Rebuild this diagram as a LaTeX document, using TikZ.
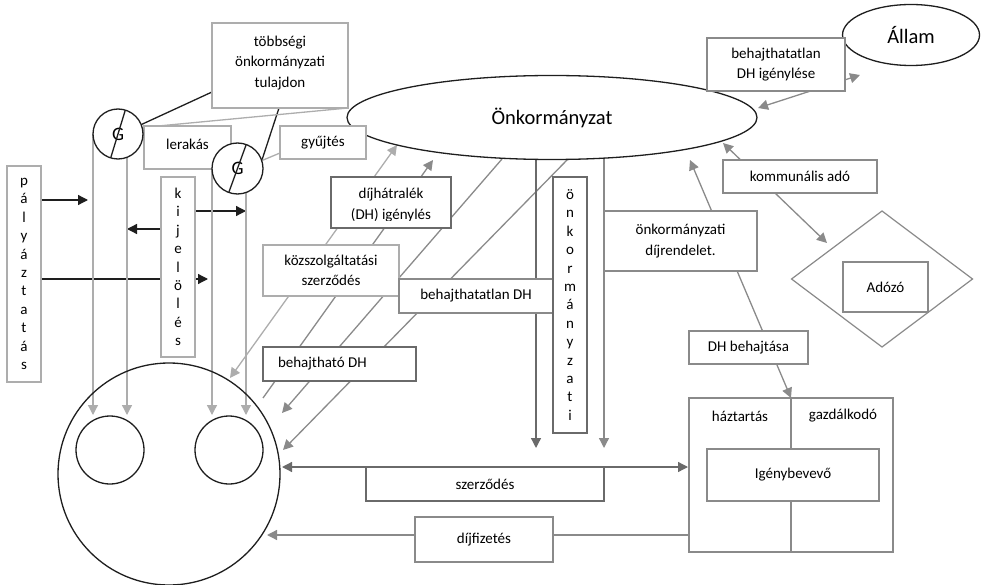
\documentclass[tikz,border=0pt]{standalone}
\usepackage{fontspec}
\setmainfont{Carlito}
\usetikzlibrary{arrows.meta,shapes.geometric}
\pgfdeclarelayer{bg}
\pgfsetlayers{bg,main}
\definecolor{lk}{HTML}{1E1E1E}
\definecolor{gd}{HTML}{6A6A6A}
\definecolor{gm}{HTML}{8A8A8A}
\definecolor{gl}{HTML}{ADADAD}
\newcommand\fsn{\fontsize{15}{20.5}\selectfont}
\newcommand\fsv{\fontsize{15}{18.4}\selectfont}
\newcommand\fsb{\fontsize{20.5}{24}\selectfont}
\begin{document}
\begin{tikzpicture}[x=1pt,y=-1pt,
  every node/.style={inner sep=0pt,outer sep=0pt,font=\fsn},
  box/.style={draw=#1,fill=white,line width=1.2pt,align=center},
  box/.default=gm,
  vbox/.style={box=#1,font=\fsv},
  vbox/.default=gl,
  ln/.style={draw=#1,line width=1.3pt},
  ln/.default=gm,
  tipE/.style={-{Triangle[length=10pt,width=10pt]}},
  tipB/.style={{Triangle[length=10pt,width=10pt]}-{Triangle[length=10pt,width=10pt]}},
  circ/.style={circle,draw=lk,line width=1.3pt},
]
\useasboundingbox (0,0) rectangle (981,585);

% ---- circles (big and small) ----
\node[circ,minimum size=222pt] (bc) at (169,474) {};
\node[circ,minimum size=68pt] (sc1) at (110,450) {};
\node[circ,minimum size=68pt] (sc2) at (229,450) {};

% ---- ellipses ----
\node[ellipse,draw=lk,fill=white,line width=1.3pt,minimum width=410pt,minimum height=84pt,font=\fsb] (onk) at (552,117.5) {Önkormányzat};
\node[ellipse,draw=lk,fill=white,line width=1.3pt,minimum width=137pt,minimum height=61pt,font=\fsb] (all) at (911,35) {Állam};

% ---- left boxes ----
\node[box=gl,minimum width=136pt,minimum height=85pt] (tob) at (280,65.5) {};
\node[align=center] (tobt) at (280,63) {többségi\\önkormányzati\\tulajdon};
\node[box=gl,minimum width=87pt,minimum height=43pt] (ler) at (187.5,147.5) {};
\node (lert) at (187.5,144) {lerakás};
\node[box=gl,minimum width=86pt,minimum height=33pt] (gyu) at (323,142.5) {gyűjtés};
\node[vbox,minimum width=34pt,minimum height=216pt] (paly) at (24,274) {p\\á\\l\\y\\á\\z\\t\\a\\t\\á\\s};
\node[vbox,minimum width=34pt,minimum height=180pt] (kij) at (178,267) {k\\i\\j\\e\\l\\ö\\l\\é\\s};

% ---- G circles ----
\node[circ,fill=white,minimum size=50pt,font=\fontsize{19}{22}\selectfont] (g1) at (118,134) {G};
\draw[lk,line width=1.3pt] (g1.73) -- (g1.253);
\node[circ,fill=white,minimum size=51pt,font=\fontsize{19}{22}\selectfont] (g2) at (237.5,168.5) {G};
\draw[lk,line width=1.3pt] (g2.70) -- (g2.250);

% ---- middle boxes ----
\node[box=gd,minimum width=120pt,minimum height=51pt] (dij) at (391,202.5) {};
\begin{scope}
\clip (331.6,177.6) rectangle (450.4,220.6);
\node[anchor=base] (dijt1) at (391,199) {díjhátralék};
\node[anchor=base] (dijt2) at (391,219.6) {(DH) igénylés};
\end{scope}
\node[box=gl,minimum width=136pt,minimum height=51pt] (kozsz) at (331,270.5) {közszolgáltatási\\szerződés};
\node[box=gm,minimum width=154pt,minimum height=34pt] (bhtl) at (476,296) {behajthatatlan DH};
\node[box=gd,minimum width=153pt,minimum height=34pt] (bht) at (339.5,364) {};
\node[anchor=west] (bhtt) at (278,364) {behajtható DH};
\node[vbox=gd,minimum width=34pt,minimum height=256pt] (onkv) at (570,305) {ö\\n\\k\\o\\r\\m\\á\\n\\y\\z\\a\\t\\i};
\node[box=gd,minimum width=238pt,minimum height=34pt] (szerz) at (485,484) {szerződés};
\node[box=gm,minimum width=138pt,minimum height=45pt] (dijf) at (484,539.5) {díjfizetés};

% ---- right boxes ----
\node[box=gm,minimum width=138pt,minimum height=53pt] (bhig) at (776,64.5) {behajthatatlan\\DH igénylése};
\node[box=gm,minimum width=154pt,minimum height=33pt] (kom) at (800,176.5) {kommunális adó};
\node[box=gm,minimum width=153pt,minimum height=60pt] (dijr) at (680.5,241) {önkormányzati\\díjrendelet.};
\node[box=gm,minimum width=119pt,minimum height=33pt] (dhb) at (748.5,347.5) {DH behajtása};
\node[diamond,draw=gm,fill=white,line width=1.2pt,minimum width=181pt,minimum height=136pt] (adz) at (882,279) {};
\node[box=gm,minimum width=85pt,minimum height=50pt] (adozo) at (885.5,287) {Adózó};
\node[box=gm,minimum width=204pt,minimum height=154pt] (outer) at (791,475) {};
\draw[gm,line width=1.2pt] (outer.north) -- (outer.south);
\node[box=gm,minimum width=172pt,minimum height=52pt] (igeny) at (793,475) {Igénybevevő};
\node (haz) at (740,416) {háztartás};
\node (gaz) at (843,416) {gazdálkodó};

% ---- connector end points ----
\coordinate (t1) at (212,92);
\coordinate (t2) at (279,108);
\coordinate (gy1) at (280,153);
\coordinate (v2a) at (127,157);
\coordinate (v4a) at (246,192);
\coordinate (v1b) at (93,415);
\coordinate (v2b) at (127,415);
\coordinate (v3b) at (212,415);
\coordinate (v4b) at (246,415);
\coordinate (b1a) at (41,200);   \coordinate (b1b) at (88,200);
\coordinate (b2a) at (161,229);  \coordinate (b2b) at (127,229);
\coordinate (b3a) at (195,211);  \coordinate (b3b) at (246,211);
\coordinate (b4a) at (41,279);   \coordinate (b4b) at (208,279);
\coordinate (d1a) at (397,145);  \coordinate (d1b) at (230,378);
\coordinate (d2a) at (433,160);  \coordinate (d2b) at (263,398);
\coordinate (d3a) at (502,159);  \coordinate (d3b) at (282,413);
\coordinate (d4a) at (568,159);  \coordinate (d4b) at (283,450);
\coordinate (e1a) at (536,159);  \coordinate (e1b) at (536,448);
\coordinate (e2a) at (604,158);  \coordinate (e2b) at (604,448);
\coordinate (h1a) at (282,467);  \coordinate (h1b) at (688,467);
\coordinate (h2a) at (689,535);  \coordinate (h2b) at (267,535);
\coordinate (r1a) at (758,108);  \coordinate (r1b) at (860,75);
\coordinate (r2a) at (723,143);  \coordinate (r2b) at (827,243);
\coordinate (r3a) at (690,160);  \coordinate (r3b) at (791,398);

\begin{pgfonlayer}{bg}
% black
\draw[ln=lk] (t1) -- (g1.22);
\draw[ln=lk] (t2) -- (g2.18);
\draw[ln=lk,tipE] (b1a) -- (b1b);
\draw[ln=lk,tipE] (b2a) -- (b2b);
\draw[ln=lk,tipE] (b3a) -- (b3b);
\draw[ln=lk,tipE] (b4a) -- (b4b);
% light grey
\draw[ln=gl] (g1.15) -- (tob.south east);
\draw[ln=gl] (g2.18) -- (gy1);
\draw[ln=gl,tipE] (g1.west) -- (v1b);
\draw[ln=gl,tipE] (v2a) -- (v2b);
\draw[ln=gl,tipE] (g2.west) -- (v3b);
\draw[ln=gl,tipE] (v4a) -- (v4b);
\draw[ln=gl,tipB] (d1a) -- (d1b);
% mid grey diagonals
\draw[ln=gm,tipE] (d2b) -- (d2a);
\draw[ln=gm,tipE] (d3a) -- (d3b);
\draw[ln=gm,tipE] (d4a) -- (d4b);
% verticals from Önkormányzat
\draw[ln=gd,tipE] (e1a) -- (e1b);
\draw[ln=gm,tipE] (e2a) -- (e2b);
% horizontals
\draw[ln=gd,tipB] (h1a) -- (h1b);
\draw[ln=gm,tipE] (h2a) -- (h2b);
% right side
\draw[ln=gm,tipB] (r1a) -- (r1b);
\draw[ln=gm,tipB] (r2a) -- (r2b);
\draw[ln=gm,tipB] (r3a) -- (r3b);
\end{pgfonlayer}
\end{tikzpicture}
\end{document}
